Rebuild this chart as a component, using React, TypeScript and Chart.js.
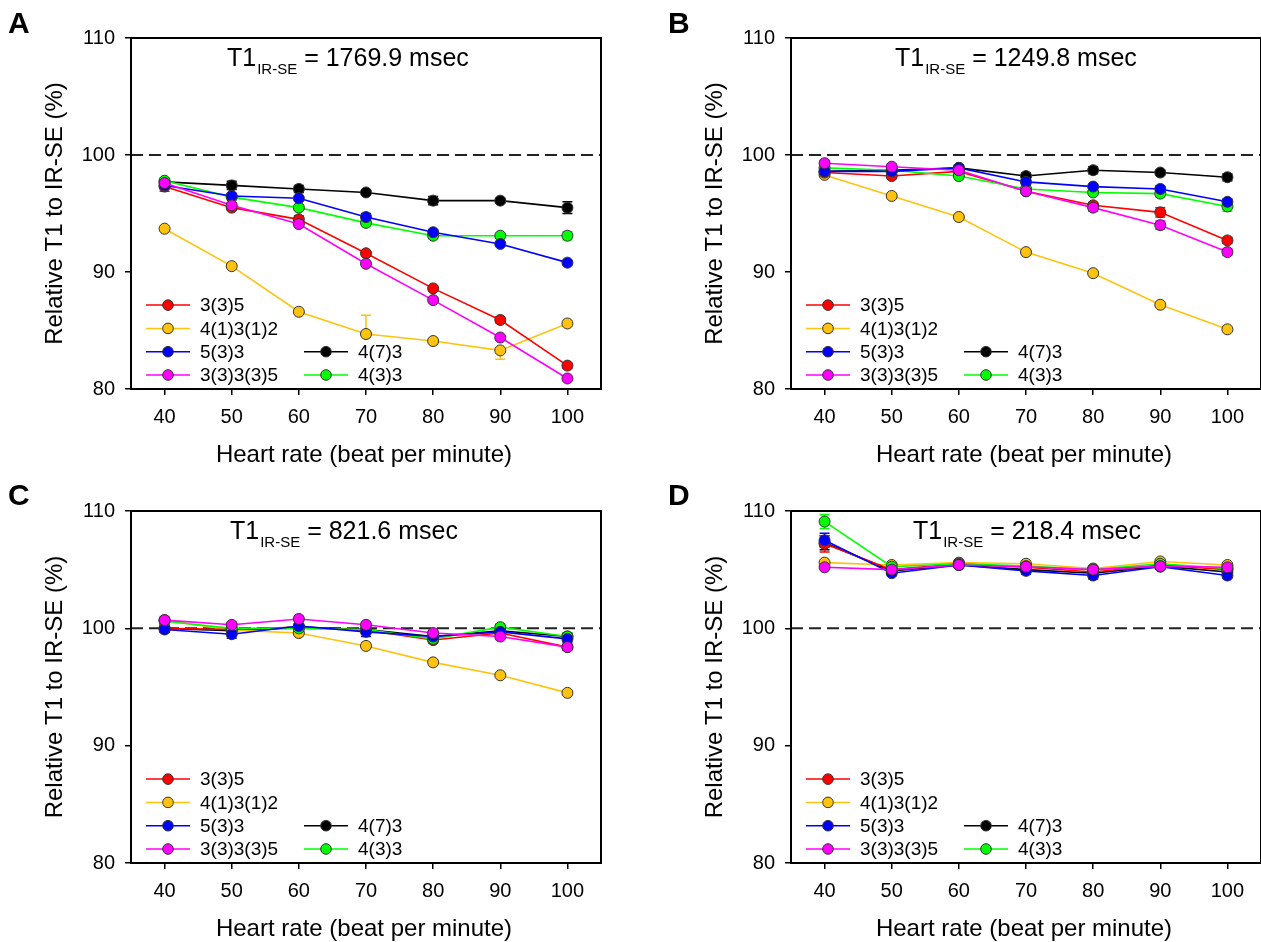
import React, { useEffect, useRef } from 'react';
import { Chart, registerables } from 'chart.js';

Chart.register(...registerables);

// ---------- shared axes / labels ----------
const HEART_RATE = [40, 50, 60, 70, 80, 90, 100];
const X_TICKS = [40, 50, 60, 70, 80, 90, 100];
const Y_TICKS = [80, 90, 100, 110];
const X_RANGE = [35, 105];
const Y_RANGE = [80, 110];
const REFERENCE_LINE = 100;

const SERIES_LABELS = ['3(3)5', '4(1)3(1)2', '5(3)3', '3(3)3(3)5', '4(7)3', '4(3)3'];
const SERIES_COLORS = ['#FF0000', '#FFC20E', '#0000FF', '#FF00FF', '#000000', '#00FF00'];
// drawing order: lower is drawn on top
const SERIES_ORDER = [3, 4, 1, 0, 5, 2];

const PANEL_LETTERS = ['A', 'B', 'C', 'D'];
const T1_VALUES = ['1769.9', '1249.8', '821.6', '218.4'];

const X_TITLE = 'Heart rate (beat per minute)';
const Y_TITLE = 'Relative T1 to IR-SE (%)';

// ---------- Panel A (T1 = 1769.9 msec) ----------
const A_335 = [97.3, 95.5, 94.5, 91.6, 88.6, 85.9, 82.0];
const A_41312 = [93.7, 90.5, 86.6, 84.7, 84.1, 83.3, 85.6];
const A_533 = [97.4, 96.5, 96.3, 94.7, 93.4, 92.4, 90.8];
const A_33335 = [97.6, 95.7, 94.1, 90.7, 87.6, 84.4, 80.9];
const A_473 = [97.7, 97.4, 97.1, 96.8, 96.1, 96.1, 95.5];
const A_433 = [97.8, 96.4, 95.5, 94.2, 93.1, 93.1, 93.1];

const A_335_ERR = [0.4, 0.2, 0.3, 0.2, 0.2, 0.25, 0.2];
const A_41312_ERR = [0.1, 0.1, 0.1, [0, 1.6], 0.1, [0.75, 0], 0.1];
const A_533_ERR = [0.2, 0.2, 0.2, 0.3, 0.2, 0.15, 0.15];
const A_33335_ERR = [0.3, 0.2, 0.2, 0.2, 0.2, 0.15, 0.15];
const A_473_ERR = [0.2, 0.35, 0.3, 0.2, 0.35, 0.2, 0.5];
const A_433_ERR = [0.2, 0.2, 0.25, 0.25, 0.25, 0.15, 0.35];

// ---------- Panel B (T1 = 1249.8 msec) ----------
const B_335 = [98.5, 98.2, 98.6, 96.9, 95.7, 95.1, 92.7];
const B_41312 = [98.3, 96.5, 94.7, 91.7, 89.9, 87.2, 85.1];
const B_533 = [98.6, 98.6, 98.9, 97.7, 97.3, 97.1, 96.0];
const B_33335 = [99.3, 99.0, 98.7, 96.9, 95.5, 94.0, 91.7];
const B_473 = [98.6, 98.7, 98.9, 98.2, 98.7, 98.5, 98.1];
const B_433 = [98.9, 98.7, 98.2, 97.1, 96.8, 96.7, 95.6];

const B_335_ERR = [0.2, 0.2, 0.2, 0.2, 0.25, 0.4, 0.25];
const B_41312_ERR = [0.1, 0.1, 0.1, 0.1, 0.1, 0.1, 0.1];
const B_533_ERR = [0.2, 0.2, 0.25, 0.25, 0.2, 0.25, 0.25];
const B_33335_ERR = [0.25, 0.2, 0.2, 0.25, 0.3, 0.35, 0.3];
const B_473_ERR = [0.2, 0.2, 0.2, 0.25, 0.3, 0.2, 0.3];
const B_433_ERR = [0.2, 0.2, 0.3, 0.2, 0.25, 0.3, 0.4];

// ---------- Panel C (T1 = 821.6 msec) ----------
const C_335 = [100.0, 99.9, 100.1, 99.85, 99.0, 99.6, 98.4];
const C_41312 = [100.7, 99.85, 99.6, 98.5, 97.1, 96.0, 94.5];
const C_533 = [99.9, 99.5, 100.2, 99.7, 99.3, 99.7, 99.1];
const C_33335 = [100.7, 100.3, 100.8, 100.3, 99.6, 99.3, 98.4];
const C_473 = [100.0, 99.8, 100.1, 99.9, 99.3, 99.8, 99.3];
const C_433 = [100.6, 100.0, 100.0, 99.9, 99.1, 100.1, 99.3];

const C_335_ERR = [0.35, 0.2, 0.2, 0.2, 0.25, 0.2, 0.25];
const C_41312_ERR = [0.1, 0.1, 0.1, 0.1, 0.1, 0.1, 0.1];
const C_533_ERR = [0.2, 0.35, 0.2, 0.4, 0.2, 0.2, 0.3];
const C_33335_ERR = [0.3, 0.2, 0.2, 0.2, 0.2, 0.25, 0.25];
const C_473_ERR = [0.3, 0.3, 0.2, 0.2, 0.3, 0.2, 0.3];
const C_433_ERR = [0.3, 0.2, 0.2, 0.2, 0.3, 0.3, 0.3];

// ---------- Panel D (T1 = 218.4 msec) ----------
const D_335 = [107.2, 105.0, 105.5, 105.2, 104.8, 105.4, 105.0];
const D_41312 = [105.6, 105.4, 105.6, 105.5, 105.1, 105.7, 105.4];
const D_533 = [107.5, 104.7, 105.4, 104.9, 104.5, 105.25, 104.5];
const D_33335 = [105.2, 105.0, 105.4, 105.25, 105.0, 105.3, 105.2];
const D_473 = [107.3, 104.9, 105.4, 105.0, 104.7, 105.3, 104.8];
const D_433 = [109.1, 105.25, 105.5, 105.3, 105.0, 105.5, 105.1];

const D_335_ERR = [0.7, 0.2, 0.2, 0.2, 0.2, 0.2, 0.2];
const D_41312_ERR = [0.15, 0.15, 0.15, 0.15, 0.15, 0.15, 0.15];
const D_533_ERR = [0.6, 0.2, 0.2, 0.3, 0.3, 0.2, 0.2];
const D_33335_ERR = [0.15, 0.15, 0.15, 0.15, 0.15, 0.15, 0.15];
const D_473_ERR = [0.6, 0.2, 0.2, 0.2, 0.2, 0.2, 0.2];
const D_433_ERR = [0.6, 0.2, 0.2, 0.2, 0.2, 0.2, 0.2];

const PANEL_VALUES = [
  [A_335, A_41312, A_533, A_33335, A_473, A_433],
  [B_335, B_41312, B_533, B_33335, B_473, B_433],
  [C_335, C_41312, C_533, C_33335, C_473, C_433],
  [D_335, D_41312, D_533, D_33335, D_473, D_433],
];
const PANEL_ERRORS = [
  [A_335_ERR, A_41312_ERR, A_533_ERR, A_33335_ERR, A_473_ERR, A_433_ERR],
  [B_335_ERR, B_41312_ERR, B_533_ERR, B_33335_ERR, B_473_ERR, B_433_ERR],
  [C_335_ERR, C_41312_ERR, C_533_ERR, C_33335_ERR, C_473_ERR, C_433_ERR],
  [D_335_ERR, D_41312_ERR, D_533_ERR, D_33335_ERR, D_473_ERR, D_433_ERR],
];

// ---------- layout (canvas placement and plot-area box inside each canvas) ----------
const FONT = "'Liberation Sans', Arial, Helvetica, sans-serif";
const BOXES = [
  { left: 0, top: 0, W: 630, H: 475, L: 131, T: 38, R: 601, B: 389, titleX: 227, letterX: 8, letterY: 33 },
  { left: 630, top: 0, W: 631, H: 475, L: 161, T: 38, R: 632, B: 389, titleX: 265, letterX: 38, letterY: 33 },
  { left: 0, top: 475, W: 630, H: 467, L: 131, T: 36, R: 601, B: 388, titleX: 230, letterX: 8, letterY: 30 },
  { left: 630, top: 475, W: 631, H: 467, L: 161, T: 36, R: 632, B: 388, titleX: 283, letterX: 38, letterY: 30 },
];

function errPair(e: any): [number, number] {
  if (Array.isArray(e)) return [e[0], e[1]];
  return [e, e];
}

function makePanelPlugin(idx: number) {
  const box = BOXES[idx];
  return {
    id: 'panelDecor' + idx,
    beforeDatasetsDraw(chart: any) {
      const ctx = chart.ctx;
      const ca = chart.chartArea;
      const xs = chart.scales.x;
      const ys = chart.scales.y;
      // reference dashed line
      ctx.save();
      ctx.strokeStyle = '#222';
      ctx.lineWidth = 2;
      ctx.setLineDash([12, 6]);
      const yr = ys.getPixelForValue(REFERENCE_LINE);
      ctx.beginPath();
      ctx.moveTo(ca.left, yr);
      ctx.lineTo(ca.right, yr);
      ctx.stroke();
      ctx.restore();
      // error bars (drawn beneath markers)
      ctx.save();
      ctx.lineWidth = 1.5;
      const order = SERIES_ORDER.map((o, s) => ({ o, s })).sort((a, b) => b.o - a.o);
      order.forEach(({ s }) => {
        const vals = PANEL_VALUES[idx][s];
        const errs = PANEL_ERRORS[idx][s];
        ctx.strokeStyle = SERIES_COLORS[s];
        HEART_RATE.forEach((hr, i) => {
          const [dn, up] = errPair(errs[i]);
          const px = xs.getPixelForValue(hr);
          const yTop = ys.getPixelForValue(vals[i] + up);
          const yBot = ys.getPixelForValue(vals[i] - dn);
          ctx.beginPath();
          ctx.moveTo(px, yTop);
          ctx.lineTo(px, yBot);
          if (up > 0) {
            ctx.moveTo(px - 5, yTop);
            ctx.lineTo(px + 5, yTop);
          }
          if (dn > 0) {
            ctx.moveTo(px - 5, yBot);
            ctx.lineTo(px + 5, yBot);
          }
          ctx.stroke();
        });
      });
      ctx.restore();
    },
    afterDraw(chart: any) {
      const ctx = chart.ctx;
      const ca = chart.chartArea;
      ctx.save();
      // frame
      ctx.strokeStyle = '#000';
      ctx.lineWidth = 2;
      ctx.strokeRect(ca.left, ca.top, ca.right - ca.left, ca.bottom - ca.top);

      ctx.fillStyle = '#000';
      // panel letter
      ctx.font = `bold 30px ${FONT}`;
      ctx.textAlign = 'left';
      ctx.textBaseline = 'alphabetic';
      ctx.fillText(PANEL_LETTERS[idx], box.letterX, box.letterY);

      // title T1 IR-SE = ...
      const by = ca.top + 28;
      let tx = box.titleX;
      ctx.font = `25px ${FONT}`;
      ctx.fillText('T1', tx, by);
      tx += ctx.measureText('T1').width + 1;
      ctx.font = `15px ${FONT}`;
      ctx.fillText('IR-SE', tx, by + 8);
      tx += ctx.measureText('IR-SE').width;
      ctx.font = `25px ${FONT}`;
      ctx.fillText(` = ${T1_VALUES[idx]} msec`, tx, by);

      // x axis title
      ctx.font = `24px ${FONT}`;
      ctx.textAlign = 'center';
      ctx.fillText(X_TITLE, (ca.left + ca.right) / 2 - 2, ca.bottom + 73);

      // y axis title
      ctx.save();
      ctx.translate(ca.left - 69, (ca.top + ca.bottom) / 2);
      ctx.rotate(-Math.PI / 2);
      ctx.textAlign = 'center';
      ctx.fillText(Y_TITLE, 0, 0);
      ctx.restore();

      // legend
      const rowGap = 23.3;
      const rowsY = [3, 2, 1, 0].map((k) => ca.bottom - 14 - k * rowGap);
      const entries = [
        { s: 0, col: 0, row: 0 },
        { s: 1, col: 0, row: 1 },
        { s: 2, col: 0, row: 2 },
        { s: 3, col: 0, row: 3 },
        { s: 4, col: 1, row: 2 },
        { s: 5, col: 1, row: 3 },
      ];
      ctx.font = `19px ${FONT}`;
      ctx.textAlign = 'left';
      ctx.textBaseline = 'middle';
      entries.forEach(({ s, col, row }) => {
        const off = col === 0 ? 0 : 158;
        const y = rowsY[row];
        const x0 = ca.left + 15 + off;
        ctx.strokeStyle = SERIES_COLORS[s];
        ctx.lineWidth = 1.5;
        ctx.beginPath();
        ctx.moveTo(x0, y);
        ctx.lineTo(x0 + 44, y);
        ctx.stroke();
        ctx.beginPath();
        ctx.arc(x0 + 22, y, 5.3, 0, Math.PI * 2);
        ctx.fillStyle = SERIES_COLORS[s];
        ctx.fill();
        ctx.strokeStyle = '#333';
        ctx.lineWidth = 1;
        ctx.stroke();
        ctx.fillStyle = '#000';
        ctx.fillText(SERIES_LABELS[s], ca.left + 69 + off, y + 1);
      });
      ctx.restore();
    },
  };
}

function makeChart(canvas: HTMLCanvasElement, idx: number) {
  const box = BOXES[idx];
  const datasets = SERIES_LABELS.map((label, s) => ({
    label,
    data: HEART_RATE.map((x, i) => ({ x, y: PANEL_VALUES[idx][s][i] })),
    borderColor: SERIES_COLORS[s],
    backgroundColor: SERIES_COLORS[s],
    borderWidth: 1.6,
    pointRadius: 5.5,
    pointBackgroundColor: SERIES_COLORS[s],
    pointBorderColor: '#333',
    pointBorderWidth: 1,
    tension: 0,
    order: SERIES_ORDER[s],
    clip: false as any,
  }));
  const tickFont = { family: FONT, size: 20 };
  return new Chart(canvas, {
    type: 'line',
    data: { datasets },
    options: {
      animation: false,
      responsive: false,
      devicePixelRatio: 1,
      events: [],
      layout: { autoPadding: false, padding: { left: 0, top: box.T, right: box.W - box.R, bottom: 0 } },
      plugins: { legend: { display: false }, tooltip: { enabled: false } },
      scales: {
        x: {
          type: 'linear',
          min: X_RANGE[0],
          max: X_RANGE[1],
          afterBuildTicks: (s: any) => {
            s.ticks = X_TICKS.map((v) => ({ value: v }));
          },
          afterFit: (s: any) => {
            s.height = box.H - box.B;
            s.paddingLeft = 0;
            s.paddingRight = 0;
            s.paddingTop = 0;
            s.paddingBottom = 0;
          },
          grid: { drawOnChartArea: false, drawTicks: true, tickLength: 6, color: '#000', lineWidth: 1.5 },
          border: { display: true, color: '#000', width: 2 },
          ticks: { font: tickFont, color: '#000', padding: 10, maxRotation: 0, autoSkip: false },
        },
        y: {
          type: 'linear',
          min: Y_RANGE[0],
          max: Y_RANGE[1],
          afterBuildTicks: (s: any) => {
            s.ticks = Y_TICKS.map((v) => ({ value: v }));
          },
          afterFit: (s: any) => {
            s.width = box.L;
            s.paddingLeft = 0;
            s.paddingRight = 0;
            s.paddingTop = 0;
            s.paddingBottom = 0;
          },
          grid: { drawOnChartArea: false, drawTicks: true, tickLength: 6, color: '#000', lineWidth: 1.5 },
          border: { display: true, color: '#000', width: 2 },
          ticks: { font: tickFont, color: '#000', padding: 10, autoSkip: false },
        },
      },
    },
    plugins: [makePanelPlugin(idx)],
  } as any);
}

export default function App() {
  const r0 = useRef<HTMLCanvasElement>(null);
  const r1 = useRef<HTMLCanvasElement>(null);
  const r2 = useRef<HTMLCanvasElement>(null);
  const r3 = useRef<HTMLCanvasElement>(null);
  const refs = [r0, r1, r2, r3];

  useEffect(() => {
    const charts = refs.map((r, i) => makeChart(r.current as HTMLCanvasElement, i));
    return () => charts.forEach((c) => c.destroy());
  }, []);

  return (
    <div
      style={{
        position: 'absolute',
        left: 0,
        top: 0,
        width: 1261,
        height: 942,
        background: '#fff',
        overflow: 'hidden',
      }}
    >
      {BOXES.map((b, i) => (
        <canvas
          key={i}
          ref={refs[i]}
          width={b.W}
          height={b.H}
          style={{ position: 'absolute', left: b.left, top: b.top, width: b.W, height: b.H }}
        />
      ))}
    </div>
  );
}
